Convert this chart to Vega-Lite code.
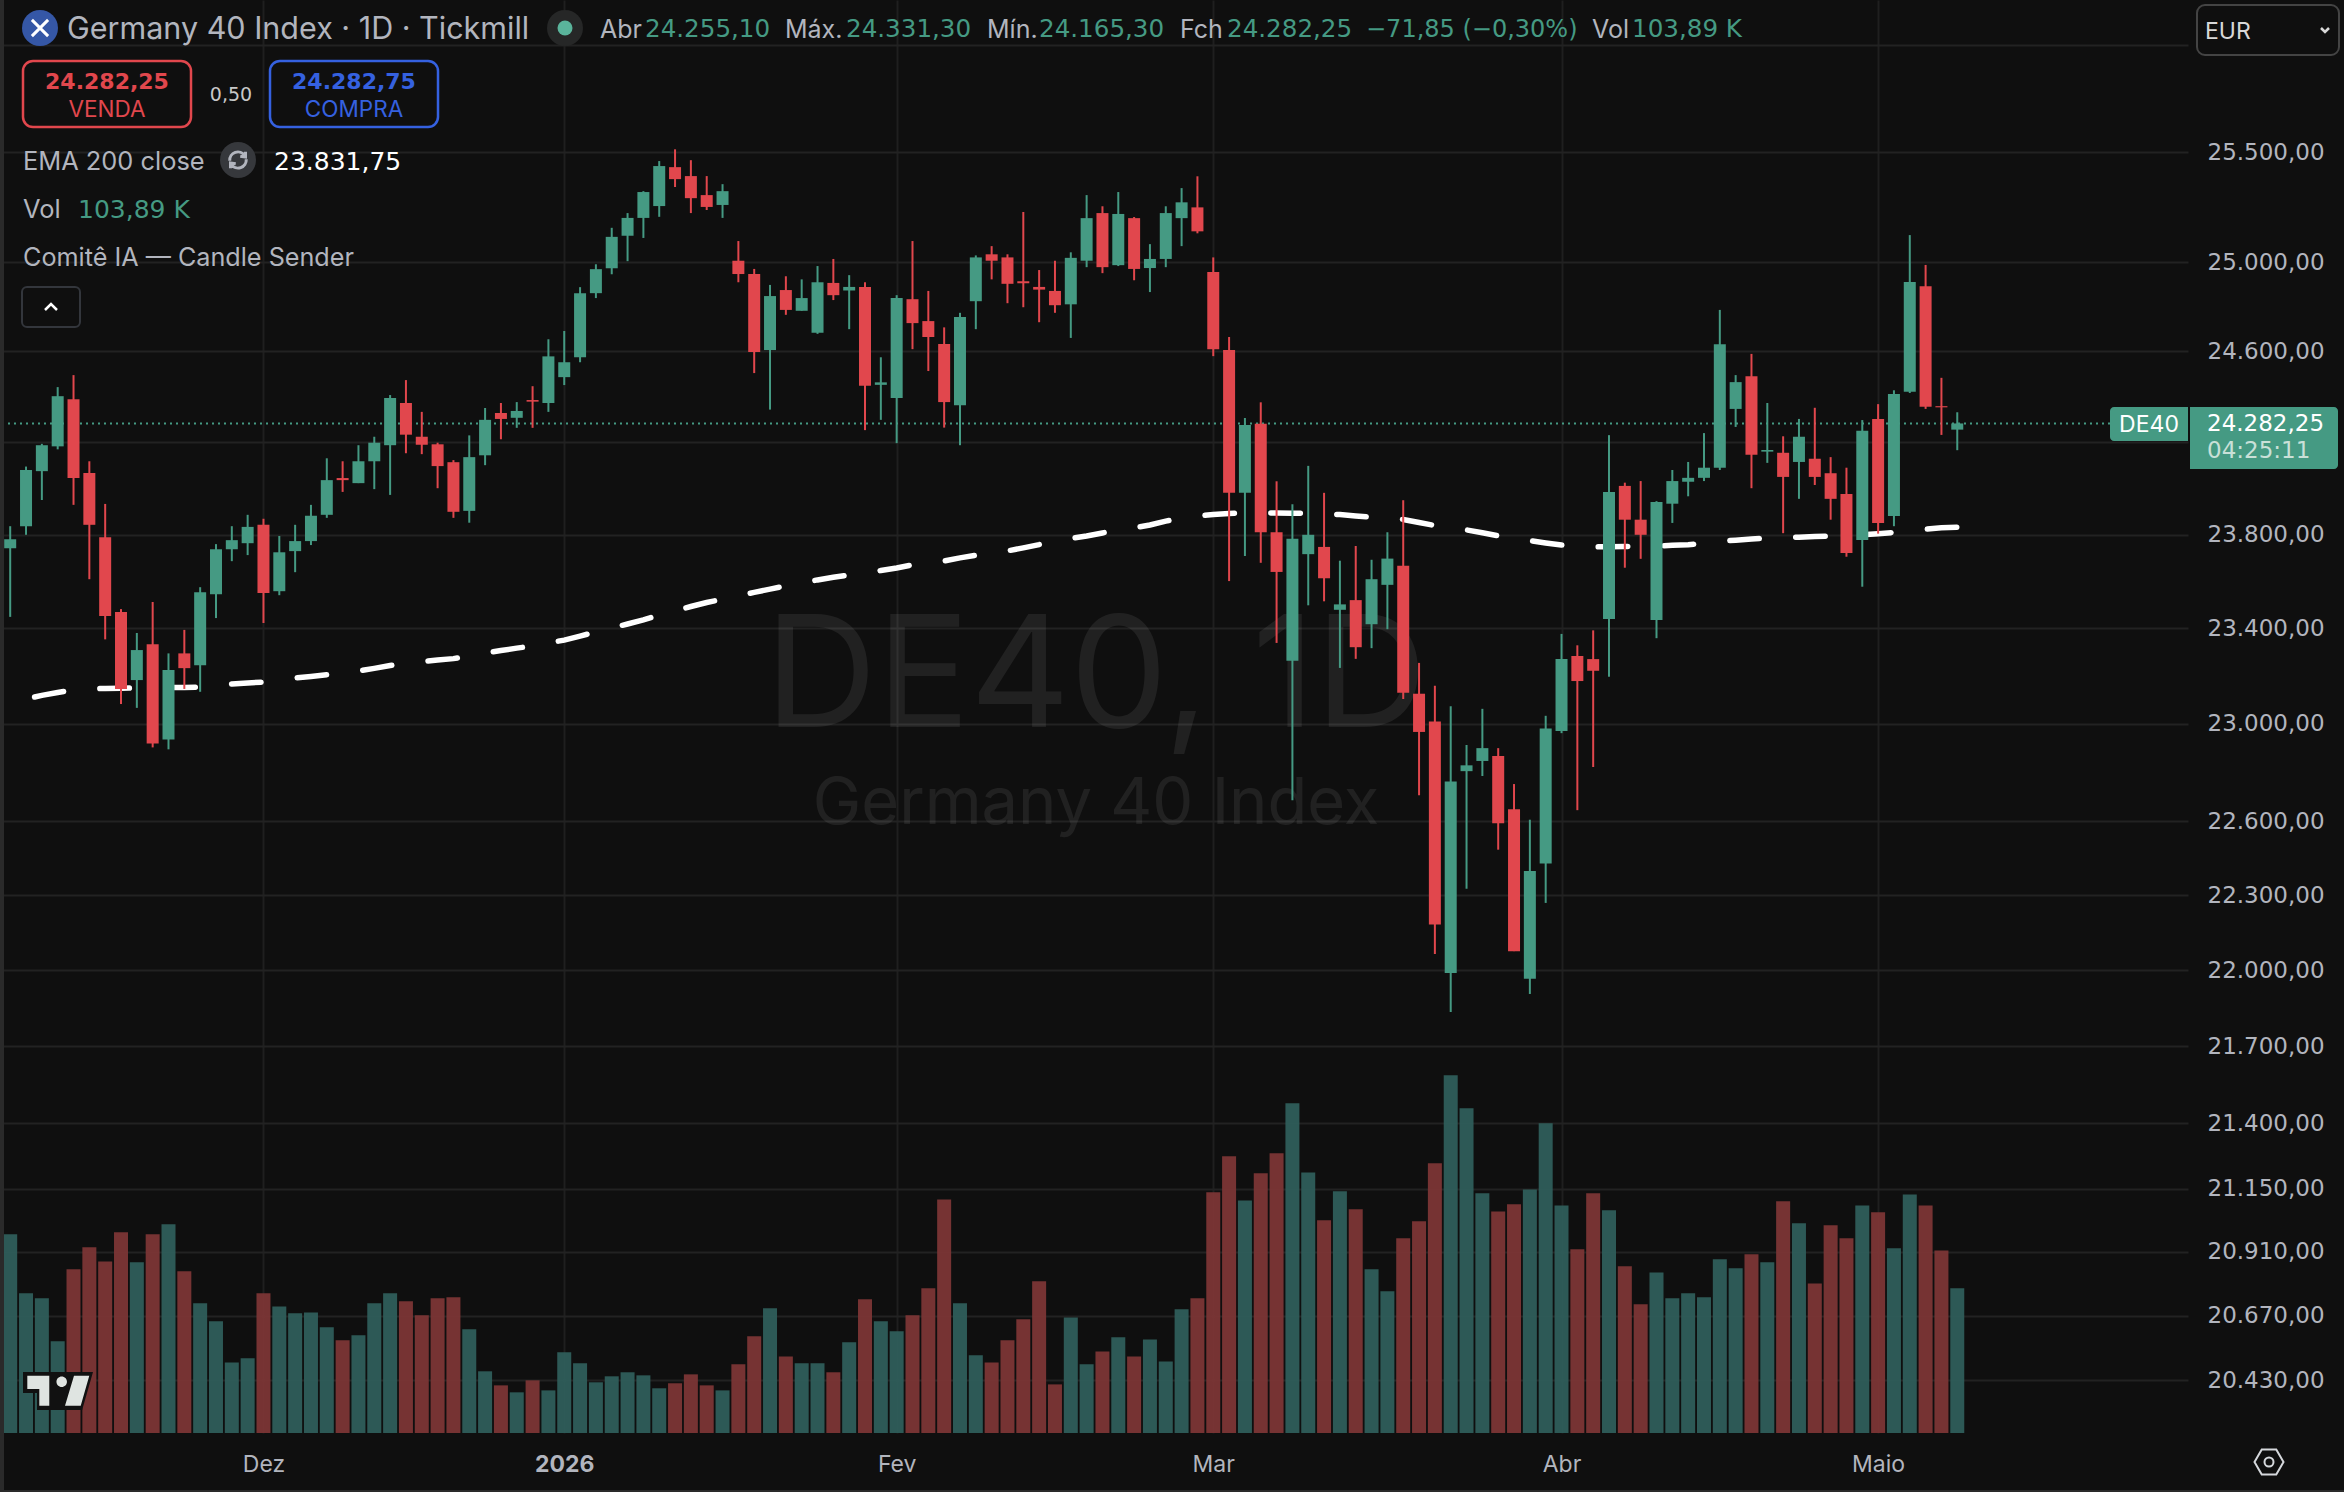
{
  "$schema": "https://vega.github.io/schema/vega-lite/v6.json",
  "autosize": {"type": "none"},
  "padding": {"left": 0, "top": 0, "right": 156, "bottom": 59},
  "width": 2188,
  "height": 1433,
  "background": "#0f0f0f",
  "data": {"values": [
    {"i":0,"o":23741,"h":23836,"l":23449,"c":23780,"v":142.6,"ema":null},
    {"i":1,"o":23836,"h":24094,"l":23799,"c":24079,"v":100.3,"ema":23104},
    {"i":2,"o":24074,"h":24193,"l":23949,"c":24187,"v":96.7,"ema":23119},
    {"i":3,"o":24182,"h":24442,"l":24169,"c":24402,"v":65.8,"ema":23131},
    {"i":4,"o":24389,"h":24495,"l":23928,"c":24044,"v":117.5,"ema":23142},
    {"i":5,"o":24066,"h":24117,"l":23609,"c":23842,"v":133.3,"ema":23146},
    {"i":6,"o":23788,"h":23932,"l":23354,"c":23453,"v":123.2,"ema":23148},
    {"i":7,"o":23470,"h":23482,"l":23083,"c":23146,"v":144.1,"ema":23149},
    {"i":8,"o":23183,"h":23381,"l":23067,"c":23309,"v":122.5,"ema":23150},
    {"i":9,"o":23333,"h":23512,"l":22903,"c":22919,"v":142.6,"ema":23150},
    {"i":10,"o":22936,"h":23295,"l":22895,"c":23225,"v":149.8,"ema":23152},
    {"i":11,"o":23295,"h":23394,"l":23146,"c":23233,"v":116.1,"ema":23152},
    {"i":12,"o":23245,"h":23575,"l":23134,"c":23554,"v":93.1,"ema":23154},
    {"i":13,"o":23545,"h":23759,"l":23444,"c":23737,"v":80.2,"ema":23161},
    {"i":14,"o":23737,"h":23836,"l":23686,"c":23776,"v":50.7,"ema":23167},
    {"i":15,"o":23763,"h":23885,"l":23712,"c":23833,"v":53.6,"ema":23171},
    {"i":16,"o":23842,"h":23868,"l":23423,"c":23550,"v":100.3,"ema":23175},
    {"i":17,"o":23558,"h":23794,"l":23541,"c":23724,"v":90.9,"ema":23184},
    {"i":18,"o":23729,"h":23842,"l":23639,"c":23772,"v":85.9,"ema":23192},
    {"i":19,"o":23772,"h":23928,"l":23755,"c":23881,"v":86.6,"ema":23198},
    {"i":20,"o":23885,"h":24130,"l":23872,"c":24035,"v":75.9,"ema":23205},
    {"i":21,"o":24044,"h":24117,"l":23984,"c":24035,"v":66.5,"ema":23213},
    {"i":22,"o":24022,"h":24187,"l":24022,"c":24117,"v":70.1,"ema":23221},
    {"i":23,"o":24117,"h":24224,"l":23996,"c":24198,"v":93.1,"ema":23232},
    {"i":24,"o":24187,"h":24407,"l":23971,"c":24394,"v":100.3,"ema":23244},
    {"i":25,"o":24372,"h":24473,"l":24152,"c":24233,"v":94.5,"ema":23253},
    {"i":26,"o":24224,"h":24333,"l":24148,"c":24189,"v":84.5,"ema":23261},
    {"i":27,"o":24191,"h":24198,"l":24000,"c":24096,"v":96.7,"ema":23267},
    {"i":28,"o":24113,"h":24122,"l":23872,"c":23898,"v":97.4,"ema":23273},
    {"i":29,"o":23902,"h":24230,"l":23851,"c":24135,"v":74.4,"ema":23284},
    {"i":30,"o":24143,"h":24350,"l":24100,"c":24298,"v":44.3,"ema":23296},
    {"i":31,"o":24328,"h":24372,"l":24213,"c":24302,"v":34.2,"ema":23307},
    {"i":32,"o":24307,"h":24376,"l":24263,"c":24337,"v":29.2,"ema":23317},
    {"i":33,"o":24385,"h":24446,"l":24263,"c":24378,"v":37.8,"ema":23326},
    {"i":34,"o":24372,"h":24654,"l":24333,"c":24578,"v":30.6,"ema":23339},
    {"i":35,"o":24486,"h":24691,"l":24451,"c":24552,"v":57.9,"ema":23351},
    {"i":36,"o":24574,"h":24887,"l":24552,"c":24860,"v":50.0,"ema":23368},
    {"i":37,"o":24860,"h":24990,"l":24838,"c":24968,"v":36.4,"ema":23385},
    {"i":38,"o":24972,"h":25155,"l":24945,"c":25114,"v":40.7,"ema":23402},
    {"i":39,"o":25119,"h":25222,"l":25004,"c":25200,"v":43.6,"ema":23419},
    {"i":40,"o":25200,"h":25322,"l":25109,"c":25318,"v":41.4,"ema":23436},
    {"i":41,"o":25254,"h":25460,"l":25205,"c":25437,"v":32.1,"ema":23457},
    {"i":42,"o":25432,"h":25514,"l":25341,"c":25377,"v":35.7,"ema":23474},
    {"i":43,"o":25391,"h":25464,"l":25222,"c":25290,"v":42.1,"ema":23493},
    {"i":44,"o":25304,"h":25391,"l":25236,"c":25250,"v":34.2,"ema":23510},
    {"i":45,"o":25259,"h":25354,"l":25200,"c":25322,"v":30.6,"ema":23524},
    {"i":46,"o":25006,"h":25095,"l":24909,"c":24946,"v":49.3,"ema":23539},
    {"i":47,"o":24946,"h":24969,"l":24504,"c":24597,"v":69.4,"ema":23553},
    {"i":48,"o":24606,"h":24897,"l":24343,"c":24847,"v":89.5,"ema":23567},
    {"i":49,"o":24874,"h":24936,"l":24763,"c":24785,"v":55.0,"ema":23580},
    {"i":50,"o":24781,"h":24922,"l":24781,"c":24838,"v":50.0,"ema":23593},
    {"i":51,"o":24683,"h":24982,"l":24678,"c":24909,"v":50.0,"ema":23606},
    {"i":52,"o":24906,"h":25014,"l":24829,"c":24851,"v":43.6,"ema":23617},
    {"i":53,"o":24872,"h":24941,"l":24699,"c":24888,"v":65.1,"ema":23627},
    {"i":54,"o":24888,"h":24909,"l":24253,"c":24448,"v":96.0,"ema":23636},
    {"i":55,"o":24452,"h":24574,"l":24298,"c":24463,"v":80.2,"ema":23646},
    {"i":56,"o":24394,"h":24851,"l":24196,"c":24838,"v":73.0,"ema":23657},
    {"i":57,"o":24833,"h":25095,"l":24610,"c":24726,"v":84.5,"ema":23670},
    {"i":58,"o":24735,"h":24870,"l":24513,"c":24664,"v":103.9,"ema":23679},
    {"i":59,"o":24633,"h":24707,"l":24264,"c":24376,"v":167.7,"ema":23687},
    {"i":60,"o":24362,"h":24772,"l":24187,"c":24753,"v":93.1,"ema":23700},
    {"i":61,"o":24824,"h":25030,"l":24699,"c":25021,"v":55.8,"ema":23711},
    {"i":62,"o":25035,"h":25072,"l":24922,"c":25006,"v":50.7,"ema":23721},
    {"i":63,"o":25021,"h":25035,"l":24815,"c":24902,"v":66.5,"ema":23730},
    {"i":64,"o":24913,"h":25227,"l":24797,"c":24904,"v":81.6,"ema":23743},
    {"i":65,"o":24888,"h":24964,"l":24730,"c":24876,"v":108.9,"ema":23757},
    {"i":66,"o":24870,"h":25006,"l":24772,"c":24806,"v":34.9,"ema":23773},
    {"i":67,"o":24810,"h":25044,"l":24660,"c":25019,"v":83.0,"ema":23783},
    {"i":68,"o":25006,"h":25304,"l":24977,"c":25199,"v":49.3,"ema":23794},
    {"i":69,"o":25222,"h":25253,"l":24950,"c":24977,"v":58.6,"ema":23807},
    {"i":70,"o":24986,"h":25318,"l":24982,"c":25218,"v":68.7,"ema":23820},
    {"i":71,"o":25199,"h":25204,"l":24918,"c":24969,"v":55.0,"ema":23829},
    {"i":72,"o":24973,"h":25081,"l":24865,"c":25014,"v":67.2,"ema":23841},
    {"i":73,"o":25014,"h":25253,"l":24977,"c":25222,"v":51.4,"ema":23858},
    {"i":74,"o":25199,"h":25336,"l":25072,"c":25271,"v":88.8,"ema":23869},
    {"i":75,"o":25248,"h":25390,"l":25130,"c":25139,"v":96.7,"ema":23880},
    {"i":76,"o":24955,"h":25021,"l":24579,"c":24610,"v":172.8,"ema":23886},
    {"i":77,"o":24606,"h":24664,"l":23601,"c":23980,"v":198.6,"ema":23891},
    {"i":78,"o":23980,"h":24306,"l":23708,"c":24275,"v":167.0,"ema":23893},
    {"i":79,"o":24281,"h":24375,"l":23679,"c":23810,"v":186.4,"ema":23893},
    {"i":80,"o":23810,"h":24030,"l":23339,"c":23640,"v":200.8,"ema":23893},
    {"i":81,"o":23264,"h":23931,"l":22686,"c":23782,"v":236.7,"ema":23892},
    {"i":82,"o":23716,"h":24097,"l":23498,"c":23799,"v":187.1,"ema":23891},
    {"i":83,"o":23747,"h":23980,"l":23515,"c":23613,"v":152.7,"ema":23889},
    {"i":84,"o":23479,"h":23688,"l":23234,"c":23502,"v":173.5,"ema":23886},
    {"i":85,"o":23520,"h":23751,"l":23272,"c":23321,"v":160.6,"ema":23880},
    {"i":86,"o":23418,"h":23692,"l":23317,"c":23609,"v":117.5,"ema":23875},
    {"i":87,"o":23585,"h":23810,"l":23397,"c":23697,"v":101.7,"ema":23872},
    {"i":88,"o":23666,"h":23948,"l":23104,"c":23130,"v":139.8,"ema":23865},
    {"i":89,"o":23126,"h":23255,"l":22706,"c":22967,"v":152.0,"ema":23852},
    {"i":90,"o":23010,"h":23159,"l":22065,"c":22182,"v":193.6,"ema":23839},
    {"i":91,"o":21989,"h":23074,"l":21835,"c":22762,"v":256.8,"ema":23829},
    {"i":92,"o":22805,"h":22913,"l":22326,"c":22829,"v":233.1,"ema":23820},
    {"i":93,"o":22847,"h":23063,"l":22785,"c":22900,"v":172.1,"ema":23808},
    {"i":94,"o":22867,"h":22900,"l":22484,"c":22592,"v":159.1,"ema":23795},
    {"i":95,"o":22649,"h":22752,"l":22076,"c":22076,"v":164.2,"ema":23783},
    {"i":96,"o":21966,"h":22606,"l":21906,"c":22398,"v":174.9,"ema":23774},
    {"i":97,"o":22428,"h":23034,"l":22269,"c":22981,"v":222.3,"ema":23764},
    {"i":98,"o":22971,"h":23377,"l":22962,"c":23271,"v":163.4,"ema":23755},
    {"i":99,"o":23284,"h":23329,"l":22645,"c":23179,"v":131.9,"ema":23750},
    {"i":100,"o":23271,"h":23392,"l":22822,"c":23222,"v":172.1,"ema":23747},
    {"i":101,"o":23440,"h":24231,"l":23197,"c":23984,"v":159.9,"ema":23748},
    {"i":102,"o":24010,"h":24024,"l":23658,"c":23864,"v":119.7,"ema":23749},
    {"i":103,"o":23864,"h":24031,"l":23696,"c":23799,"v":92.4,"ema":23750},
    {"i":104,"o":23436,"h":23944,"l":23359,"c":23940,"v":115.3,"ema":23751},
    {"i":105,"o":23933,"h":24079,"l":23850,"c":24031,"v":96.7,"ema":23754},
    {"i":106,"o":24028,"h":24114,"l":23965,"c":24045,"v":100.3,"ema":23756},
    {"i":107,"o":24045,"h":24240,"l":24031,"c":24089,"v":97.4,"ema":23762},
    {"i":108,"o":24089,"h":24785,"l":24079,"c":24632,"v":124.7,"ema":23771},
    {"i":109,"o":24346,"h":24495,"l":24267,"c":24464,"v":118.2,"ema":23776},
    {"i":110,"o":24490,"h":24589,"l":24000,"c":24145,"v":128.3,"ema":23781},
    {"i":111,"o":24159,"h":24372,"l":24110,"c":24166,"v":122.5,"ema":23785},
    {"i":112,"o":24154,"h":24226,"l":23806,"c":24049,"v":166.3,"ema":23787},
    {"i":113,"o":24114,"h":24302,"l":23954,"c":24224,"v":150.5,"ema":23789},
    {"i":114,"o":24128,"h":24351,"l":24014,"c":24049,"v":107.4,"ema":23792},
    {"i":115,"o":24065,"h":24135,"l":23864,"c":23954,"v":149.1,"ema":23794},
    {"i":116,"o":23975,"h":24089,"l":23705,"c":23721,"v":139.8,"ema":23797},
    {"i":117,"o":23777,"h":24297,"l":23577,"c":24250,"v":163.4,"ema":23799},
    {"i":118,"o":24302,"h":24367,"l":23804,"c":23850,"v":158.4,"ema":23804},
    {"i":119,"o":23880,"h":24428,"l":23836,"c":24412,"v":132.6,"ema":23809},
    {"i":120,"o":24421,"h":25122,"l":24416,"c":24910,"v":171.3,"ema":23816},
    {"i":121,"o":24891,"h":24987,"l":24346,"c":24355,"v":163.4,"ema":23823},
    {"i":122,"o":24358,"h":24483,"l":24232,"c":24353,"v":131.1,"ema":23829},
    {"i":123,"o":24255.10,"h":24331.30,"l":24165.30,"c":24282.25,"v":103.89,"ema":23831.75}
  ]},
  "resolve": {"scale": {"y": "independent"}, "axis": {"y": "independent"}},
  "layer": [
    {
      "mark": {"type": "bar", "orient": "vertical", "size": 14, "opacity": 0.93},
      "encoding": {
        "x": {"field": "i", "type": "quantitative", "scale": {"domain": [-0.6443, 137.576], "nice": false, "zero": false, "padding": 0},
          "axis": {"values": [16, 35, 56, 76, 98, 118], "title": null, "domain": false, "ticks": false, "grid": true, "gridColor": "#1f1f1f", "gridWidth": 2,
            "labelExpr": "datum.value==16?'Dez':datum.value==35?'2026':datum.value==56?'Fev':datum.value==76?'Mar':datum.value==98?'Abr':'Maio'",
            "labelFont": "Inter", "labelFontSize": 23, "labelColor": "#b2b5be", "labelPadding": 31, "labelBaseline": "middle", "labelBound": false, "labelFlush": false, "labelOverlap": false,
            "labelFontWeight": {"condition": {"test": "datum.value==35", "value": "bold"}, "value": "normal"}}},
        "y": {"field": "v", "type": "quantitative", "scale": {"domain": [0, 1028.8], "nice": false, "zero": true}, "axis": null},
        "color": {"condition": {"test": "datum.c >= datum.o", "value": "#2f5f5b"}, "value": "#7e3636"}
      }
    },
    {
      "data": {"values": [{}]},
      "mark": {"type": "text", "align": "center", "baseline": "alphabetic", "fontSize": 155, "color": "#ffffff", "opacity": 0.075},
      "encoding": {"x": {"value": 1096}, "y": {"value": 727}, "text": {"value": "DE40, 1D"}}
    },
    {
      "data": {"values": [{}]},
      "mark": {"type": "text", "align": "center", "baseline": "alphabetic", "fontSize": 65, "color": "#ffffff", "opacity": 0.075},
      "encoding": {"x": {"value": 1096}, "y": {"value": 824}, "text": {"value": "Germany 40 Index"}}
    },
    {
      "layer": [
        {
          "mark": {"type": "line", "color": "#ffffff", "strokeWidth": 5.5, "strokeCap": "round", "strokeDash": [29.5, 36.45], "strokeDashOffset": 57.15},
          "encoding": {
            "x": {"field": "i", "type": "quantitative"},
            "y": {"field": "ema", "type": "quantitative", "scale": {"type": "log", "domain": [20237, 26211], "nice": false, "zero": false},
              "axis": {"orient": "right", "values": [26000, 25500, 25000, 24600, 24200, 23800, 23400, 23000, 22600, 22300, 22000, 21700, 21400, 21150, 20910, 20670, 20430],
                "title": null, "domain": false, "ticks": false, "grid": true, "gridColor": "#222222", "gridWidth": 2,
                "labelExpr": "datum.value==26000||datum.value==24200?'':format(floor(datum.value/1000),'d')+'.'+format(datum.value%1000,'03d')+',00'",
                "labelFont": "DejaVu Sans", "labelFontSize": 23, "labelColor": "#b2b5be", "labelPadding": 19, "labelBaseline": "middle", "labelOverlap": false, "labelBound": false, "labelFlush": false}}
          }
        },
        {
          "data": {"values": [{}]},
          "mark": {"type": "rule", "color": "#459a83", "strokeWidth": 2, "strokeDash": [2, 4]},
          "encoding": {"y": {"datum": 24282.25}}
        },
        {
          "mark": {"type": "rule", "strokeWidth": 2},
          "encoding": {
            "x": {"field": "i", "type": "quantitative"},
            "y": {"field": "h", "type": "quantitative"},
            "y2": {"field": "l"},
            "color": {"condition": {"test": "datum.c >= datum.o", "value": "#459a83"}, "value": "#e1474d"}
          }
        },
        {
          "mark": {"type": "bar", "orient": "vertical", "size": 12},
          "encoding": {
            "x": {"field": "i", "type": "quantitative"},
            "y": {"field": "o", "type": "quantitative"},
            "y2": {"field": "c"},
            "color": {"condition": {"test": "datum.c >= datum.o", "value": "#459a83"}, "value": "#e1474d"}
          }
        }
      ]
    },
    {
      "data": {"values": [{}]},
      "mark": {"type": "rect", "color": "#2a2a2a"},
      "encoding": {"x": {"value": 0}, "x2": {"value": 4}, "y": {"value": 0}, "y2": {"value": 1492}}
    },
    {
      "data": {"values": [{}]},
      "mark": {"type": "rect", "color": "#2a2a2a"},
      "encoding": {"x": {"value": 0}, "x2": {"value": 2344}, "y": {"value": 1490}, "y2": {"value": 1492}}
    },
    {
      "data": {"values": [{}]},
      "mark": {"type": "point", "shape": "M-1,-0.54L1,-0.54L0.69,0.54L-0.6,0.54L-0.6,0.06L-1,0.06Z", "size": 4900, "filled": true, "fill": "#111111", "opacity": 1},
      "encoding": {"x": {"value": 58}, "y": {"value": 1391}}
    },
    {
      "data": {"values": [{}]},
      "mark": {"type": "point", "shape": "M-0.877,-0.437L-0.249,-0.437L-0.249,0.42L-0.534,0.42L-0.534,-0.057L-0.877,-0.057ZM0.457,-0.437L0.894,-0.437L0.649,0.42L0.2,0.42ZM-0.044,-0.266a0.15,0.15 0 1,0 0.3,0a0.15,0.15 0 1,0 -0.3,0Z", "size": 4900, "filled": true, "fill": "#dfe4e1", "opacity": 1},
      "encoding": {"x": {"value": 58}, "y": {"value": 1391}}
    },
    {
      "data": {"values": [{}]},
      "mark": {"type": "point", "shape": "M-1,0L-0.5,-0.87L0.5,-0.87L1,0L0.5,0.87L-0.5,0.87Z", "size": 841, "filled": false, "stroke": "#d5d8dc", "strokeWidth": 2, "opacity": 1},
      "encoding": {"x": {"value": 2269}, "y": {"value": 1462}}
    },
    {
      "data": {"values": [{}]},
      "mark": {"type": "point", "shape": "circle", "size": 81, "filled": false, "stroke": "#d5d8dc", "strokeWidth": 2, "opacity": 1},
      "encoding": {"x": {"value": 2269}, "y": {"value": 1462}}
    },
    {
      "data": {"values": [{}]},
      "mark": {"type": "point", "shape": "circle", "size": 1296, "filled": true, "fill": "#3557a6", "opacity": 1},
      "encoding": {"x": {"value": 40}, "y": {"value": 28}}
    },
    {
      "data": {"values": [{}]},
      "mark": {"type": "point", "shape": "M-0.6,-0.6L0.6,0.6M-0.6,0.6L0.6,-0.6", "size": 729, "filled": false, "stroke": "#ffffff", "strokeWidth": 3, "opacity": 1},
      "encoding": {"x": {"value": 40}, "y": {"value": 28}}
    },
    {
      "data": {"values": [{}]},
      "mark": {"type": "text", "fontSize": 30.5, "color": "#b2b5be"},
      "encoding": {"x": {"value": 67}, "y": {"value": 30}, "text": {"value": "Germany 40 Index · 1D · Tickmill"}}
    },
    {
      "data": {"values": [{}]},
      "mark": {"type": "point", "shape": "circle", "size": 1296, "filled": true, "fill": "#262727", "opacity": 1},
      "encoding": {"x": {"value": 565}, "y": {"value": 28}}
    },
    {
      "data": {"values": [{}]},
      "mark": {"type": "point", "shape": "circle", "size": 225, "filled": true, "fill": "#5ab49b", "opacity": 1},
      "encoding": {"x": {"value": 565}, "y": {"value": 28}}
    },
    {"data": {"values": [{}]}, "mark": {"type": "text", "fontSize": 25, "color": "#b2b5be"}, "encoding": {"x": {"value": 600}, "y": {"value": 30}, "text": {"value": "Abr"}}},
    {"data": {"values": [{}]}, "mark": {"type": "text", "font": "DejaVu Sans", "fontSize": 24.6, "color": "#459a83"}, "encoding": {"x": {"value": 645}, "y": {"value": 30}, "text": {"value": "24.255,10"}}},
    {"data": {"values": [{}]}, "mark": {"type": "text", "fontSize": 25, "color": "#b2b5be"}, "encoding": {"x": {"value": 785}, "y": {"value": 30}, "text": {"value": "Máx."}}},
    {"data": {"values": [{}]}, "mark": {"type": "text", "font": "DejaVu Sans", "fontSize": 24.6, "color": "#459a83"}, "encoding": {"x": {"value": 846}, "y": {"value": 30}, "text": {"value": "24.331,30"}}},
    {"data": {"values": [{}]}, "mark": {"type": "text", "fontSize": 25, "color": "#b2b5be"}, "encoding": {"x": {"value": 987}, "y": {"value": 30}, "text": {"value": "Mín."}}},
    {"data": {"values": [{}]}, "mark": {"type": "text", "font": "DejaVu Sans", "fontSize": 24.6, "color": "#459a83"}, "encoding": {"x": {"value": 1039}, "y": {"value": 30}, "text": {"value": "24.165,30"}}},
    {"data": {"values": [{}]}, "mark": {"type": "text", "fontSize": 25, "color": "#b2b5be"}, "encoding": {"x": {"value": 1180}, "y": {"value": 30}, "text": {"value": "Fch"}}},
    {"data": {"values": [{}]}, "mark": {"type": "text", "font": "DejaVu Sans", "fontSize": 24.6, "color": "#459a83"}, "encoding": {"x": {"value": 1227}, "y": {"value": 30}, "text": {"value": "24.282,25"}}},
    {"data": {"values": [{}]}, "mark": {"type": "text", "font": "DejaVu Sans", "fontSize": 24, "color": "#459a83"}, "encoding": {"x": {"value": 1366}, "y": {"value": 30}, "text": {"value": "−71,85 (−0,30%)"}}},
    {"data": {"values": [{}]}, "mark": {"type": "text", "fontSize": 25, "color": "#b2b5be"}, "encoding": {"x": {"value": 1592}, "y": {"value": 30}, "text": {"value": "Vol"}}},
    {"data": {"values": [{}]}, "mark": {"type": "text", "font": "DejaVu Sans", "fontSize": 24.6, "color": "#459a83"}, "encoding": {"x": {"value": 1632}, "y": {"value": 30}, "text": {"value": "103,89 K"}}},
    {
      "data": {"values": [{}]},
      "mark": {"type": "rect", "fill": "#0f0f0f", "stroke": "#e1474d", "strokeWidth": 2.5, "cornerRadius": 10},
      "encoding": {"x": {"value": 23}, "x2": {"value": 191}, "y": {"value": 61}, "y2": {"value": 127}}
    },
    {"data": {"values": [{}]}, "mark": {"type": "text", "align": "center", "font": "DejaVu Sans", "fontSize": 22, "fontWeight": "bold", "color": "#e1474d"}, "encoding": {"x": {"value": 107}, "y": {"value": 82}, "text": {"value": "24.282,25"}}},
    {"data": {"values": [{}]}, "mark": {"type": "text", "align": "center", "fontSize": 22.5, "color": "#e1474d"}, "encoding": {"x": {"value": 107}, "y": {"value": 110}, "text": {"value": "VENDA"}}},
    {"data": {"values": [{}]}, "mark": {"type": "text", "align": "center", "font": "DejaVu Sans", "fontSize": 19, "color": "#c8c8c8"}, "encoding": {"x": {"value": 231}, "y": {"value": 95}, "text": {"value": "0,50"}}},
    {
      "data": {"values": [{}]},
      "mark": {"type": "rect", "fill": "#0f0f0f", "stroke": "#3561e0", "strokeWidth": 2.5, "cornerRadius": 10},
      "encoding": {"x": {"value": 270}, "x2": {"value": 438}, "y": {"value": 61}, "y2": {"value": 127}}
    },
    {"data": {"values": [{}]}, "mark": {"type": "text", "align": "center", "font": "DejaVu Sans", "fontSize": 22, "fontWeight": "bold", "color": "#3561e0"}, "encoding": {"x": {"value": 354}, "y": {"value": 82}, "text": {"value": "24.282,75"}}},
    {"data": {"values": [{}]}, "mark": {"type": "text", "align": "center", "fontSize": 22.5, "color": "#3561e0"}, "encoding": {"x": {"value": 354}, "y": {"value": 110}, "text": {"value": "COMPRA"}}},
    {"data": {"values": [{}]}, "mark": {"type": "text", "fontSize": 25.4, "color": "#b2b5be"}, "encoding": {"x": {"value": 23}, "y": {"value": 162}, "text": {"value": "EMA 200 close"}}},
    {
      "data": {"values": [{}]},
      "mark": {"type": "point", "shape": "circle", "size": 1296, "filled": true, "fill": "#36383c", "opacity": 1},
      "encoding": {"x": {"value": 238}, "y": {"value": 160}}
    },
    {
      "data": {"values": [{}]},
      "mark": {"type": "point", "shape": "M-0.55,0.05A0.55,0.55 0 0 1 0.45,-0.3M0.55,-0.05A0.55,0.55 0 0 1 -0.45,0.3M0.5,-0.55L0.5,-0.2L0.15,-0.25M-0.5,0.55L-0.5,0.2L-0.15,0.25", "size": 900, "filled": false, "stroke": "#b2b5be", "strokeWidth": 3, "opacity": 1},
      "encoding": {"x": {"value": 238}, "y": {"value": 160}}
    },
    {"data": {"values": [{}]}, "mark": {"type": "text", "font": "DejaVu Sans", "fontSize": 25, "color": "#ffffff"}, "encoding": {"x": {"value": 274}, "y": {"value": 162}, "text": {"value": "23.831,75"}}},
    {"data": {"values": [{}]}, "mark": {"type": "text", "fontSize": 25.4, "color": "#b2b5be"}, "encoding": {"x": {"value": 23}, "y": {"value": 210}, "text": {"value": "Vol"}}},
    {"data": {"values": [{}]}, "mark": {"type": "text", "font": "DejaVu Sans", "fontSize": 25, "color": "#459a83"}, "encoding": {"x": {"value": 78}, "y": {"value": 210}, "text": {"value": "103,89 K"}}},
    {"data": {"values": [{}]}, "mark": {"type": "text", "fontSize": 25.2, "color": "#b2b5be"}, "encoding": {"x": {"value": 23}, "y": {"value": 258}, "text": {"value": "Comitê IA — Candle Sender"}}},
    {
      "data": {"values": [{}]},
      "mark": {"type": "rect", "fill": "#0f0f0f", "stroke": "#33363c", "strokeWidth": 2, "cornerRadius": 5},
      "encoding": {"x": {"value": 22}, "x2": {"value": 80}, "y": {"value": 287}, "y2": {"value": 327}}
    },
    {
      "data": {"values": [{}]},
      "mark": {"type": "point", "shape": "M-0.8,0.4L0,-0.4L0.8,0.4", "size": 225, "filled": false, "stroke": "#ffffff", "strokeWidth": 2.5, "opacity": 1},
      "encoding": {"x": {"value": 51}, "y": {"value": 307}}
    },
    {
      "data": {"values": [{}]},
      "mark": {"type": "rect", "fill": "#0f0f0f", "stroke": "#444444", "strokeWidth": 2, "cornerRadius": 8},
      "encoding": {"x": {"value": 2197}, "x2": {"value": 2339}, "y": {"value": 5}, "y2": {"value": 55}}
    },
    {"data": {"values": [{}]}, "mark": {"type": "text", "fontSize": 23, "color": "#d8d8d8"}, "encoding": {"x": {"value": 2205}, "y": {"value": 32}, "text": {"value": "EUR"}}},
    {
      "data": {"values": [{}]},
      "mark": {"type": "point", "shape": "M-0.8,-0.4L0,0.4L0.8,-0.4", "size": 100, "filled": false, "stroke": "#d8d8d8", "strokeWidth": 2.5, "opacity": 1},
      "encoding": {"x": {"value": 2325}, "y": {"value": 30}}
    },
    {
      "data": {"values": [{}]},
      "mark": {"type": "rect", "fill": "#459a83", "cornerRadiusTopLeft": 4, "cornerRadiusBottomLeft": 4},
      "encoding": {"x": {"value": 2110}, "x2": {"value": 2188}, "y": {"value": 407}, "y2": {"value": 441}}
    },
    {"data": {"values": [{}]}, "mark": {"type": "text", "align": "center", "fontSize": 23, "color": "#ffffff"}, "encoding": {"x": {"value": 2149}, "y": {"value": 425}, "text": {"value": "DE40"}}},
    {
      "data": {"values": [{}]},
      "mark": {"type": "rect", "fill": "#459a83", "cornerRadiusTopRight": 4, "cornerRadiusBottomRight": 4},
      "encoding": {"x": {"value": 2190}, "x2": {"value": 2338}, "y": {"value": 407}, "y2": {"value": 469}}
    },
    {"data": {"values": [{}]}, "mark": {"type": "text", "font": "DejaVu Sans", "fontSize": 23, "color": "#ffffff"}, "encoding": {"x": {"value": 2207}, "y": {"value": 424}, "text": {"value": "24.282,25"}}},
    {"data": {"values": [{}]}, "mark": {"type": "text", "font": "DejaVu Sans", "fontSize": 23, "color": "#c9e0d8"}, "encoding": {"x": {"value": 2207}, "y": {"value": 451}, "text": {"value": "04:25:11"}}}
  ],
  "config": {
    "font": "Inter",
    "view": {"stroke": null},
    "text": {"font": "Inter", "align": "left", "baseline": "middle"}
  }
}
